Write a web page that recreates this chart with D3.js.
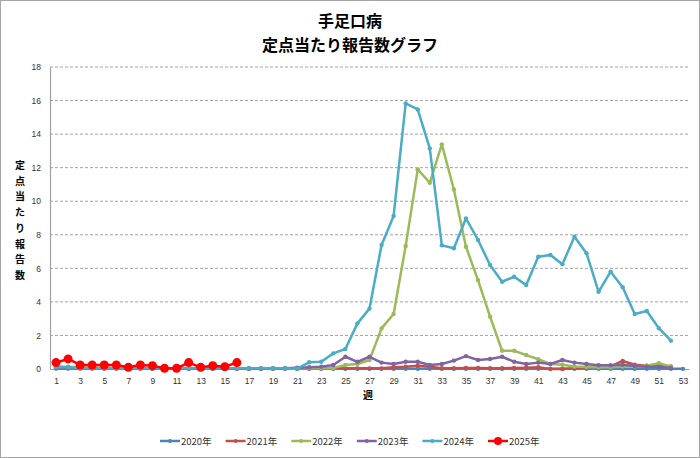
<!DOCTYPE html>
<html><head><meta charset="utf-8">
<script src="https://cdn.jsdelivr.net/npm/d3@7"></script>
<style>body{margin:0;background:#fff}svg{display:block;font-family:"Noto Sans CJK JP",sans-serif}</style>
</head><body><svg id="c" width="700" height="458"></svg>
<script>
const titleLines = ["手足口病", "定点当たり報告数グラフ"];
const yLabel = "定点当たり報告数";
const xLabel = "週";
const weeks = d3.range(1, 54);
const yTicks = [0,2,4,6,8,10,12,14,16,18];
const xTicks = d3.range(1, 54, 2);
const seriesNames = ["2020年","2021年","2022年","2023年","2024年","2025年"];
const seriesColors = ["#4F81BD","#C0504D","#9BBB59","#8064A2","#4BACC6","#FF0000"];
const v2020 = [0.1,0.1,0.08,0.06,0.05,0.04,0.03,0.03,0.02,0.02,0.02,0.01,0.01,0.01,0.01,0.01,0.01,0.01,0.01,0.01,0.01,0.01,0.01,0.01,0.01,0.01,0.01,0.01,0.01,0.01,0.01,0.01,0.01,0.01,0.01,0.01,0.01,0.01,0.01,0.01,0.01,0.01,0.01,0.01,0.01,0.01,0.01,0.01,0.01,0.01,0.01,0.01,0.01];
const v2021 = [0.05,0.05,0.04,0.04,0.03,0.03,0.03,0.03,0.03,0.02,0.02,0.02,0.02,0.02,0.02,0.02,0.02,0.02,0.03,0.03,0.03,0.03,0.03,0.04,0.04,0.04,0.04,0.04,0.1,0.14,0.2,0.14,0.05,0.05,0.06,0.06,0.05,0.05,0.06,0.08,0.1,0.0,0.0,0.05,0.1,0.15,0.15,0.48,0.25,0.2,0.2,0.15];
const v2022 = [0.15,0.14,0.1,0.08,0.07,0.06,0.05,0.05,0.05,0.04,0.04,0.04,0.04,0.04,0.04,0.04,0.04,0.04,0.04,0.04,0.04,0.04,0.04,0.05,0.24,0.3,0.54,2.42,3.28,7.33,11.9,11.1,13.39,10.7,7.29,5.3,3.12,1.09,1.09,0.83,0.58,0.3,0.25,0.15,0.12,0.1,0.1,0.15,0.15,0.2,0.34,0.15];
const v2023 = [0.03,0.03,0.03,0.03,0.03,0.03,0.03,0.02,0.02,0.02,0.02,0.02,0.02,0.02,0.02,0.03,0.03,0.03,0.04,0.05,0.08,0.1,0.14,0.24,0.73,0.43,0.73,0.38,0.3,0.43,0.43,0.24,0.3,0.5,0.77,0.54,0.6,0.73,0.43,0.3,0.38,0.3,0.54,0.38,0.3,0.22,0.22,0.26,0.18,0.14,0.14,0.06];
const v2024 = [0.1,0.1,0.06,0.05,0.05,0.05,0.04,0.04,0.04,0.04,0.04,0.04,0.04,0.04,0.04,0.04,0.05,0.05,0.05,0.05,0.02,0.4,0.43,0.93,1.19,2.72,3.6,7.39,9.12,15.83,15.47,13.15,7.37,7.2,8.97,7.69,6.2,5.2,5.5,5.0,6.69,6.8,6.25,7.88,6.9,4.6,5.8,4.87,3.28,3.46,2.43,1.69];
const v2025 = [0.38,0.6,0.24,0.24,0.24,0.24,0.1,0.24,0.2,0.04,0.04,0.38,0.1,0.2,0.14,0.38];
const seriesValues = [v2020,v2021,v2022,v2023,v2024,v2025];

const svg = d3.select("#c");
svg.append("rect").attr("x",0.5).attr("y",0.5).attr("width",699).attr("height",457)
  .attr("fill","#fff").attr("stroke","#a6a6a6");

const x = d3.scalePoint().domain(weeks).range([50,689]).padding(0.5);
const y = d3.scaleLinear().domain([0,18]).range([369,67]);

// title
svg.selectAll("text.title").data(titleLines).join("text")
  .attr("x",350).attr("y",(d,i)=>27+i*24).attr("text-anchor","middle")
  .attr("font-size",16).attr("font-weight","bold").attr("fill","#000").text(d=>d);

// grid
svg.append("g").selectAll("line").data(yTicks.filter(t=>t>0)).join("line")
  .attr("x1",50).attr("x2",689).attr("y1",d=>y(d)).attr("y2",d=>y(d))
  .attr("stroke","#8c8c8c").attr("stroke-width",0.8).attr("stroke-dasharray","3,2");

// y axis
const yAxis = svg.append("g").attr("transform","translate(50,0)")
  .call(d3.axisLeft(y).tickValues(yTicks).tickSize(0).tickPadding(9));
yAxis.select(".domain").attr("stroke","#a0a0a0").attr("stroke-width",1.2);
yAxis.selectAll("text").attr("font-size",8.5).attr("fill","#333").attr("font-family","'Liberation Sans',sans-serif");

// x axis
const xAxis = svg.append("g").attr("transform","translate(0,369)")
  .call(d3.axisBottom(x).tickValues(xTicks).tickSize(0).tickPadding(9));
xAxis.select(".domain").attr("stroke","#a0a0a0").attr("stroke-width",1.2);
xAxis.selectAll("text").attr("font-size",8.5).attr("fill","#333").attr("font-family","'Liberation Sans',sans-serif");

// y label (vertical stacked)
svg.append("g").selectAll("text").data(Array.from(yLabel)).join("text")
  .attr("x",20).attr("y",(d,i)=>169+i*15.7).attr("text-anchor","middle")
  .attr("font-size",10).attr("font-weight","bold").text(d=>d);
svg.append("text").attr("x",368).attr("y",399).attr("text-anchor","middle")
  .attr("font-size",10).attr("font-weight","bold").text(xLabel);

// series
const line = d3.line().x((d,i)=>x(i+1)).y(d=>y(d));
seriesValues.forEach((vals,k)=>{
  const g = svg.append("g");
  g.append("path").datum(vals).attr("d",line).attr("fill","none")
    .attr("stroke",seriesColors[k]).attr("stroke-width",2.5).attr("stroke-linejoin","round");
  g.selectAll("circle").data(vals).join("circle")
    .attr("cx",(d,i)=>x(i+1)).attr("cy",d=>y(d)).attr("r",k===5?4.5:2.2)
    .attr("fill",seriesColors[k]);
});

// legend
const lg = svg.append("g");
seriesNames.forEach((n,k)=>{
  const lx = 160 + k*65.6, ly = 441;
  lg.append("line").attr("x1",lx).attr("x2",lx+20).attr("y1",ly).attr("y2",ly)
    .attr("stroke",seriesColors[k]).attr("stroke-width",2.5);
  lg.append("circle").attr("cx",lx+10).attr("cy",ly).attr("r",k===5?4:2).attr("fill",seriesColors[k]);
  lg.append("text").attr("x",lx+21).attr("y",ly+3.5).attr("font-size",9.5).attr("fill","#333").text(n);
});
</script></body></html>
